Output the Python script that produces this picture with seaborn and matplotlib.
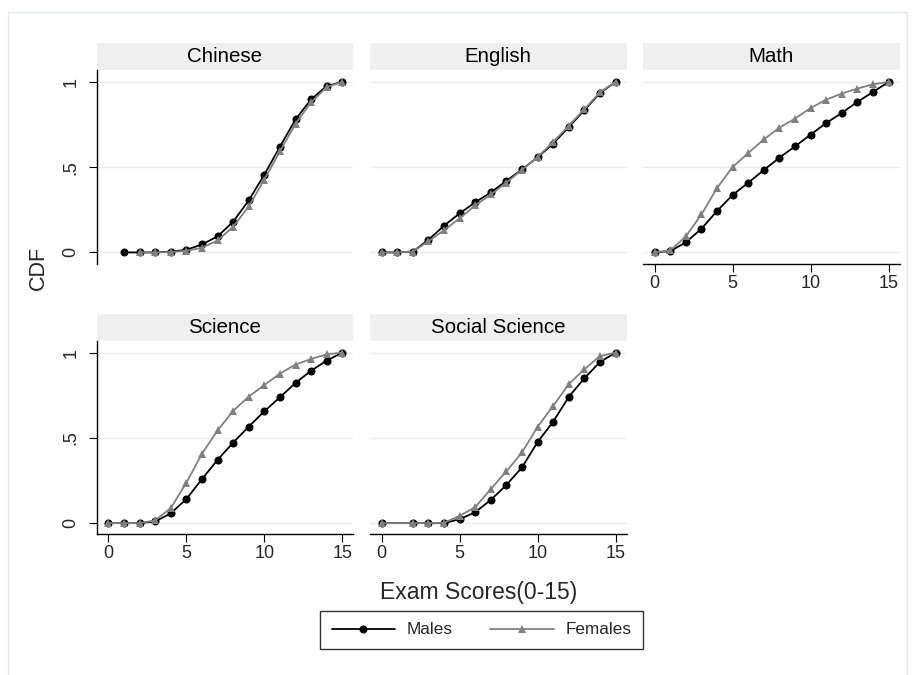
import numpy as np
import pandas as pd
import matplotlib
matplotlib.use("Agg")
import matplotlib.pyplot as plt
from matplotlib.lines import Line2D
from matplotlib.patches import Rectangle
import seaborn as sns

sns.set_theme(style="white")
plt.rcParams['font.family'] = ['Liberation Sans', 'DejaVu Sans']

scores = list(range(16))
subjects = ["Chinese", "English", "Math", "Science", "Social Science"]
N = None
chinese_m = [N, 0.0, 0.0, 0.0, 0.005, 0.015, 0.047, 0.094, 0.18, 0.305, 0.456, 0.62, 0.78, 0.898, 0.975, 1.0]
chinese_f = [N, N, 0.0, 0.0, 0.002, 0.01, 0.027, 0.07, 0.15, 0.27, 0.427, 0.593, 0.755, 0.88, 0.97, 1.0]
english_m = [0.0, 0.0, 0.005, 0.074, 0.157, 0.229, 0.294, 0.352, 0.42, 0.487, 0.558, 0.638, 0.736, 0.834, 0.935, 1.0]
english_f = [0.0, 0.0, 0.005, 0.065, 0.13, 0.2, 0.276, 0.34, 0.41, 0.485, 0.56, 0.648, 0.744, 0.84, 0.94, 1.0]
math_m = [0.0, 0.008, 0.059, 0.139, 0.243, 0.337, 0.409, 0.483, 0.556, 0.622, 0.691, 0.759, 0.818, 0.883, 0.941, 1.0]
math_f = [0.0, 0.012, 0.094, 0.223, 0.378, 0.501, 0.583, 0.663, 0.732, 0.785, 0.847, 0.896, 0.932, 0.961, 0.986, 1.0]
science_m = [0.0, 0.0, 0.0, 0.01, 0.057, 0.141, 0.258, 0.371, 0.472, 0.566, 0.656, 0.738, 0.822, 0.894, 0.953, 1.0]
science_f = [0.0, 0.0, 0.0, 0.016, 0.088, 0.237, 0.407, 0.544, 0.658, 0.742, 0.81, 0.877, 0.93, 0.963, 0.99, 1.0]
social_m = [0.0, N, 0.0, 0.0, 0.0, 0.023, 0.064, 0.136, 0.224, 0.327, 0.476, 0.595, 0.741, 0.85, 0.945, 1.0]
social_f = [0.0, N, 0.0, 0.0, 0.002, 0.043, 0.094, 0.2, 0.304, 0.415, 0.565, 0.688, 0.815, 0.903, 0.98, 1.0]
x_ticks = [0, 5, 10, 15]
y_ticks = [0, 0.5, 1]
y_ticklabels = ["0", ".5", "1"]

series = {
    "Chinese": (chinese_m, chinese_f),
    "English": (english_m, english_f),
    "Math": (math_m, math_f),
    "Science": (science_m, science_f),
    "Social Science": (social_m, social_f),
}

rows = []
for subj, (m, f) in series.items():
    for s, v in zip(scores, m):
        rows.append((subj, "Males", s, v))
    for s, v in zip(scores, f):
        rows.append((subj, "Females", s, v))
df = pd.DataFrame(rows, columns=["subject", "sex", "score", "cdf"]).dropna()

W, H = 917, 675
fig = plt.figure(figsize=(W / 100, H / 100), dpi=100)
fig.patch.set_facecolor("white")

# outer frame
fig.patches.append(Rectangle((8 / W, -0.05), (907 - 8) / W, 1.05 - 12 / H,
                             transform=fig.transFigure, fill=False,
                             edgecolor="#e3ecec", linewidth=1.0))

col_left = [96.7, 370.0, 643.0]
pw = 256.5
row_top = [70.0, 340.7]
ph = 193.5
strip_h = 27.0

pal = {"Males": "black", "Females": "#808080"}
mk = {"Males": "o", "Females": "^"}
grid_c = "#e6eef0"

positions = [(0, 0), (0, 1), (0, 2), (1, 0), (1, 1)]
for subj, (r, c) in zip(subjects, positions):
    left = col_left[c]
    top = row_top[r]
    ax = fig.add_axes([left / W, 1 - (top + ph) / H, pw / W, ph / H])
    ax.set_xlim(-0.75, 15.7)
    ax.set_ylim(-0.065, 1.07)
    for yv in y_ticks:
        ax.axhline(yv, color=grid_c, lw=1.0, zorder=0)
    d = df[df.subject == subj]
    sns.lineplot(data=d, x="score", y="cdf", hue="sex", style="sex",
                 hue_order=["Males", "Females"], style_order=["Males", "Females"],
                 palette=pal, markers=mk, dashes=False, errorbar=None,
                 legend=False, ax=ax, lw=1.3, markersize=5.8,
                 markeredgewidth=0)
    ax.set_xlabel("")
    ax.set_ylabel("")
    for sp in ["top", "right"]:
        ax.spines[sp].set_visible(False)
    show_left = (c == 0)
    show_bottom = (subj in ["Math", "Science", "Social Science"])
    ax.spines["left"].set_visible(show_left)
    ax.spines["bottom"].set_visible(show_bottom)
    for sp in ["left", "bottom"]:
        ax.spines[sp].set_color("black")
        ax.spines[sp].set_linewidth(1.0)
    if show_left:
        ax.set_yticks(y_ticks)
        ax.set_yticklabels(y_ticklabels, rotation=90, va="center", fontsize=13)
        ax.tick_params(axis="y", left=True, length=5.5, width=0.8, pad=7, color="black")
    else:
        ax.set_yticks([])
    if show_bottom:
        ax.set_xticks(x_ticks)
        ax.set_xticklabels([str(t) for t in x_ticks], fontsize=13)
        ax.tick_params(axis="x", bottom=True, length=5.5, width=0.8, pad=2.5, color="black")
    else:
        ax.set_xticks([])
    ax.set_facecolor("white")
    # strip
    ax.add_patch(Rectangle((0, 1), 1, strip_h / ph, transform=ax.transAxes,
                           facecolor="#efefef", edgecolor="none", clip_on=False))
    ax.text(0.5, 1 + strip_h / ph / 2, subj, transform=ax.transAxes,
            ha="center", va="center", fontsize=14.8, color="black")

fig.text(38 / W, 1 - 268 / H, "CDF", rotation=90, ha="center", va="center", fontsize=15.5)
fig.text(479 / W, 1 - 592 / H, "Exam Scores(0-15)", ha="center", va="center", fontsize=16.5)

handles = [Line2D([], [], color="black", marker="o", lw=1.3, markersize=5.8, markeredgewidth=0),
           Line2D([], [], color="#808080", marker="^", lw=1.3, markersize=5.8, markeredgewidth=0)]
leg = fig.legend(handles, ["Males", "Females"], loc="center",
                 bbox_to_anchor=(481.5 / W, 1 - 630 / H), ncol=2, fontsize=12.3,
                 frameon=True, fancybox=False, handlelength=3.7, handletextpad=0.7,
                 columnspacing=2.2, borderpad=0.7)
leg.get_frame().set_edgecolor("black")
leg.get_frame().set_linewidth(1.0)

fig.savefig("out.png", dpi=100, facecolor="white")
